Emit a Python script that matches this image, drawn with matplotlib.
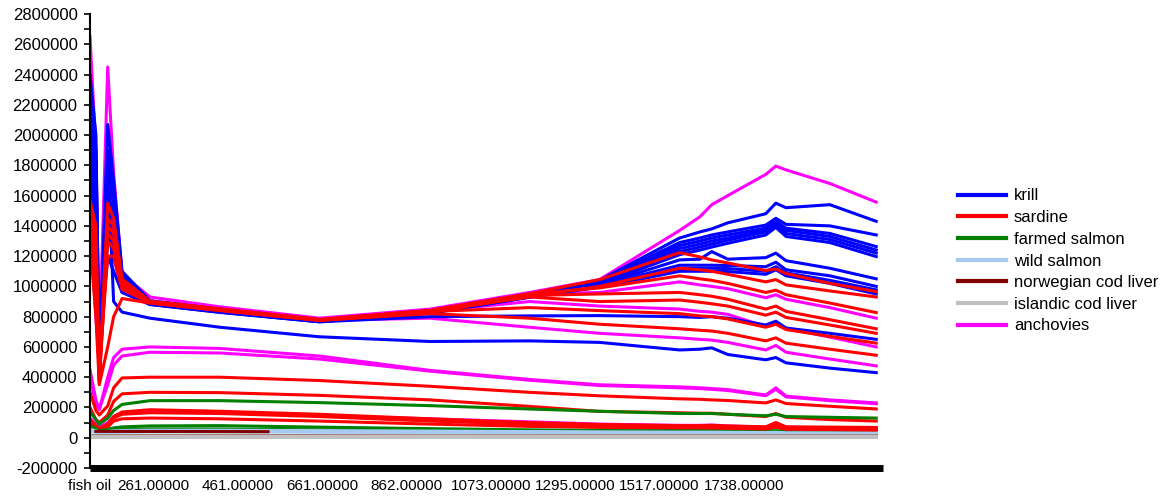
import matplotlib
matplotlib.use("Agg")
import matplotlib.pyplot as plt
from matplotlib.lines import Line2D
from matplotlib.ticker import MultipleLocator, FuncFormatter

plt.rcParams["font.family"] = ["Liberation Sans", "DejaVu Sans"]

# sample positions along the category axis (shared by all spectra)
X_KNOTS = [0, 7, 11, 21, 28, 38, 71, 154, 272, 403, 521, 604, 699, 723, 737, 756, 801, 813, 825, 877, 932]
TICK_POSITIONS = [0, 75, 175, 275, 375, 475, 575, 675, 775]
TICK_LABELS = ["fish oil", "261.00000", "461.00000", "661.00000", "862.00000",
               "1073.00000", "1295.00000", "1517.00000", "1738.00000"]

# intensities in thousands, one list per sample
ANCHOVIES = [
    [2650, 1900, 600, 2450, 1750, 1080, 930, 865, 790, 850, 960, 1045, 1370, 1460, 1540, 1600, 1740, 1795, 1770, 1680, 1557],
    [1600, 1000, 500, 1700, 1400, 1000, 905, 855, 785, 845, 950, 960, 1030, 1010, 1000, 985, 925, 945, 915, 860, 790],
    [1500, 900, 520, 1500, 1300, 980, 895, 845, 775, 835, 900, 870, 850, 835, 830, 815, 735, 760, 725, 665, 600],
    [1400, 800, 480, 1400, 1200, 960, 890, 840, 775, 790, 730, 690, 660, 650, 645, 630, 580, 610, 565, 520, 475],
    [450, 250, 185, 400, 530, 585, 600, 590, 540, 445, 385, 350, 336, 330, 325, 318, 282, 330, 275, 250, 230],
    [400, 220, 190, 350, 480, 540, 565, 560, 520, 440, 380, 345, 330, 325, 320, 312, 278, 320, 270, 245, 225],
    [130, 90, 70, 100, 140, 165, 175, 165, 145, 125, 105, 90, 82, 82, 84, 78, 70, 100, 70, 66, 62],
]
KRILL = [
    [2400, 2000, 500, 2070, 1700, 1100, 905, 850, 780, 840, 950, 1040, 1320, 1360, 1380, 1420, 1480, 1550, 1520, 1540, 1430],
    [2300, 1900, 520, 1900, 1650, 1080, 900, 848, 778, 838, 948, 1035, 1290, 1320, 1340, 1360, 1405, 1450, 1410, 1400, 1340],
    [2200, 1800, 550, 1800, 1600, 1060, 898, 845, 776, 836, 945, 1030, 1270, 1300, 1320, 1340, 1385, 1430, 1385, 1350, 1263],
    [2100, 1700, 480, 1700, 1550, 1050, 895, 842, 774, 834, 943, 1025, 1250, 1280, 1300, 1320, 1370, 1420, 1370, 1330, 1240],
    [2000, 1600, 600, 1600, 1500, 1040, 892, 840, 772, 832, 940, 1020, 1230, 1260, 1280, 1305, 1360, 1410, 1350, 1310, 1220],
    [1900, 1500, 650, 1500, 1450, 1030, 890, 838, 770, 830, 938, 1015, 1210, 1240, 1260, 1285, 1340, 1390, 1330, 1290, 1197],
    [1800, 1400, 700, 1400, 1400, 1020, 888, 836, 770, 828, 935, 1010, 1175, 1180, 1230, 1180, 1190, 1220, 1170, 1120, 1050],
    [1700, 1300, 620, 1300, 1300, 1010, 886, 834, 768, 826, 932, 1005, 1140, 1140, 1140, 1138, 1130, 1160, 1110, 1070, 1000],
    [1600, 1200, 550, 1450, 1250, 1000, 884, 832, 768, 824, 930, 1000, 1120, 1120, 1120, 1118, 1100, 1130, 1090, 1040, 977],
    [1500, 1100, 580, 1350, 1200, 990, 882, 830, 766, 822, 928, 995, 1100, 1100, 1100, 1098, 1080, 1110, 1070, 1020, 950],
    [1400, 900, 600, 1200, 1100, 960, 880, 828, 766, 800, 805, 807, 800, 795, 800, 790, 745, 770, 725, 690, 650],
    [2200, 1500, 450, 1800, 900, 830, 790, 730, 667, 636, 640, 630, 580, 585, 594, 550, 515, 530, 495, 460, 430],
]
SARDINE = [
    [1570, 1400, 380, 1550, 1450, 1050, 903, 852, 782, 842, 952, 1045, 1223, 1195, 1175, 1155, 1105, 1115, 1085, 1020, 966],
    [1500, 1300, 400, 1450, 1400, 1030, 900, 850, 780, 840, 948, 990, 1070, 1050, 1040, 1020, 960, 975, 945, 890, 827],
    [1450, 1200, 360, 1400, 1350, 1020, 898, 848, 779, 838, 940, 950, 960, 945, 935, 915, 850, 870, 835, 780, 720],
    [1400, 1100, 420, 1350, 1300, 1000, 896, 846, 778, 836, 930, 900, 910, 895, 885, 870, 810, 830, 795, 745, 690],
    [1350, 1000, 380, 1300, 1250, 990, 894, 844, 777, 834, 860, 840, 820, 805, 800, 785, 730, 750, 715, 670, 625],
    [1300, 950, 450, 1200, 1200, 980, 892, 842, 776, 820, 790, 750, 720, 710, 705, 690, 640, 660, 625, 585, 545],
    [1300, 800, 350, 600, 800, 920, 890, 840, 775, 830, 935, 1000, 1120, 1110, 1100, 1080, 1030, 1045, 1010, 970, 930],
    [300, 180, 150, 210, 330, 395, 400, 400, 378, 340, 300, 277, 257, 254, 250, 246, 230, 250, 226, 208, 190],
    [200, 120, 100, 150, 240, 290, 300, 298, 280, 250, 207, 174, 165, 162, 162, 155, 140, 160, 135, 120, 110],
    [120, 80, 60, 90, 140, 170, 185, 175, 155, 125, 100, 88, 80, 80, 82, 78, 72, 100, 72, 70, 68],
    [110, 70, 55, 80, 130, 155, 165, 160, 140, 110, 90, 80, 72, 72, 72, 70, 62, 85, 62, 58, 55],
    [100, 60, 50, 70, 110, 125, 130, 125, 110, 90, 75, 68, 60, 60, 60, 58, 52, 70, 50, 47, 45],
]
FARMED_SALMON = [
    [170, 120, 90, 130, 180, 220, 245, 245, 232, 212, 190, 175, 160, 160, 160, 155, 145, 155, 140, 135, 130],
    [80, 60, 45, 55, 65, 72, 78, 80, 70, 60, 52, 48, 45, 45, 44, 42, 38, 48, 36, 32, 28],
    [60, 50, 40, 45, 50, 55, 58, 58, 52, 46, 40, 36, 33, 33, 33, 32, 30, 36, 28, 25, 22],
]
WILD_SALMON = [
    [55, 45, 40, 42, 45, 48, 50, 50, 47, 44, 41, 39, 37, 37, 37, 36, 34, 36, 33, 32, 30],
    [40, 35, 30, 32, 34, 36, 38, 38, 36, 34, 32, 30, 29, 29, 29, 28, 27, 29, 26, 25, 24],
]
NORWEGIAN_COD = [
    [14, 14, 13, 13, 13, 13, 13, 13, 13, 12, 12, 12, 12, 12, 12, 12, 12, 12, 12, 12, 12],
]
# short visible stretch of the norwegian sample near the start
NORWEGIAN_SEG_X = [7, 120, 211]
NORWEGIAN_SEG_Y = [42, 41, 40]
ISLANDIC_COD = [
    [12, 12, 11, 11, 11, 11, 11, 11, 11, 11, 11, 11, 11, 11, 11, 11, 11, 11, 11, 11, 11],
    [3, 3, 3, 3, 3, 3, 3, 3, 3, 3, 3, 3, 3, 3, 3, 3, 3, 3, 3, 3, 3],
]

LEGEND_ORDER = ["krill", "sardine", "farmed salmon", "wild salmon",
                "norwegian cod liver", "islandic cod liver", "anchovies"]
COLORS = {
    "krill": "#0000ff",
    "sardine": "#ff0000",
    "farmed salmon": "#008000",
    "wild salmon": "#a6caf0",
    "norwegian cod liver": "#800000",
    "islandic cod liver": "#c0c0c0",
    "anchovies": "#ff00ff",
}
# drawing order, bottom first
DRAW_ORDER = [
    ("anchovies", ANCHOVIES),
    ("krill", KRILL),
    ("sardine", SARDINE),
    ("farmed salmon", FARMED_SALMON),
    ("wild salmon", WILD_SALMON),
    ("norwegian cod liver", NORWEGIAN_COD),
    ("islandic cod liver", ISLANDIC_COD),
]

LW = 2.2

fig = plt.figure(figsize=(11.66, 4.99), dpi=100, facecolor="white")
ax = fig.add_axes([90 / 1166, 1 - 468 / 499, 793 / 1166, 454 / 499])

for name, lines in DRAW_ORDER:
    for values in lines:
        ax.plot(X_KNOTS, [v * 1000 for v in values], color=COLORS[name], lw=LW)
    if name == "norwegian cod liver":
        ax.plot(NORWEGIAN_SEG_X, [v * 1000 for v in NORWEGIAN_SEG_Y], color=COLORS[name], lw=LW)

ax.set_xlim(0, 940)
ax.set_ylim(-200000, 2800000)

ax.yaxis.set_major_locator(MultipleLocator(200000))
ax.yaxis.set_minor_locator(MultipleLocator(100000))
ax.yaxis.set_major_formatter(FuncFormatter(lambda v, _: f"{int(round(v))}"))
ax.tick_params(axis="y", which="both", direction="out", length=4, width=1.2, colors="black",
               labelsize=12, pad=5)

ax.set_xticks(TICK_POSITIONS)
ax.set_xticklabels(TICK_LABELS)
ax.tick_params(axis="x", length=0, labelsize=11, pad=8, colors="black")

for spine in ("top", "right"):
    ax.spines[spine].set_visible(False)
ax.spines["left"].set_linewidth(1.5)
ax.spines["bottom"].set_linewidth(5)
ax.spines["bottom"].set_capstyle("butt")

handles = [Line2D([], [], color=COLORS[n], lw=3) for n in LEGEND_ORDER]
fig.legend(handles, LEGEND_ORDER, loc="center left", bbox_to_anchor=(958 / 1166, 1 - 261 / 499),
           frameon=False, fontsize=12, handlelength=2.9, handletextpad=0.45,
           labelspacing=0.4, borderpad=0, borderaxespad=0)

fig.savefig("out.png", dpi=100, facecolor="white")
